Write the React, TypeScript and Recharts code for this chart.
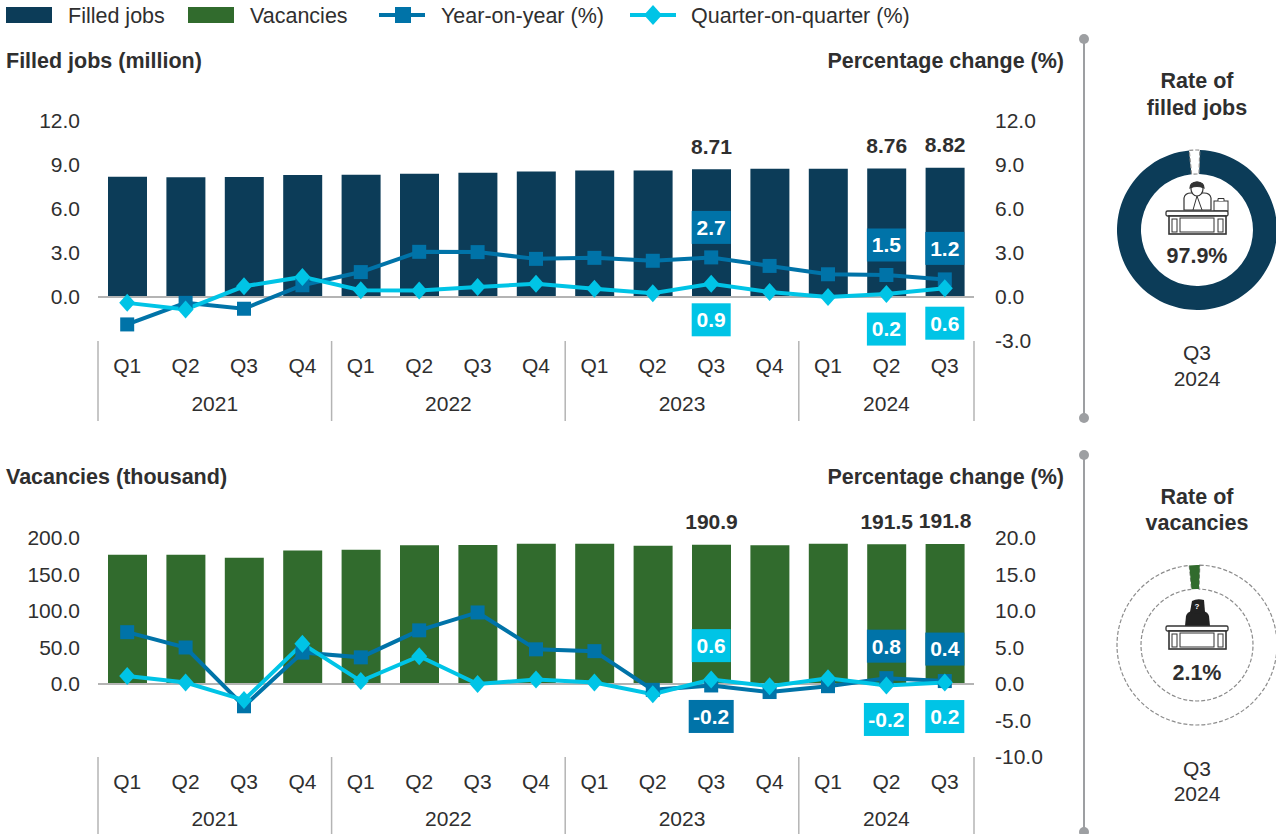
import { Bar, Cell, ComposedChart, LabelList, Line, Pie, PieChart, ReferenceLine, XAxis, YAxis } from 'recharts'

const quarters = ['Q1', 'Q2', 'Q3', 'Q4', 'Q1', 'Q2', 'Q3', 'Q4', 'Q1', 'Q2', 'Q3', 'Q4', 'Q1', 'Q2', 'Q3']
const years = ['2021', '2022', '2023', '2024']
const yearSpans = [4, 4, 4, 3]

const filledJobs = [8.2, 8.16, 8.19, 8.32, 8.34, 8.4, 8.47, 8.55, 8.62, 8.63, 8.71, 8.74, 8.75, 8.76, 8.82]
const filledYoy = [-1.87, -0.4, -0.8, 0.8, 1.7, 3.08, 3.06, 2.6, 2.67, 2.47, 2.7, 2.12, 1.55, 1.5, 1.2]
const filledQoq = [-0.4, -0.85, 0.73, 1.37, 0.46, 0.44, 0.68, 0.91, 0.57, 0.25, 0.9, 0.34, 0, 0.2, 0.6]

const vacancies = [177, 177, 173, 183, 184, 190, 190.5, 192, 192, 189.5, 190.9, 190, 192, 191.5, 191.8]
const vacancyYoy = [7.1, 5, -3.05, 4.3, 3.65, 7.35, 9.8, 4.75, 4.5, -0.8, -0.2, -1.1, -0.3, 0.8, 0.4]
const vacancyQoq = [1.1, 0.2, -2.2, 5.5, 0.4, 3.8, 0, 0.6, 0.2, -1.4, 0.6, -0.3, 0.8, -0.2, 0.2]

const filledRate = [
  { name: 'Filled', value: 97.9 },
  { name: 'Other', value: 2.1 },
]
const vacancyRate = [
  { name: 'Other', value: 97.9 },
  { name: 'Vacant', value: 2.1 },
]

const filledTable = quarters.map((quarter, i) => ({
  id: i,
  quarter,
  bar: filledJobs[i],
  yoy: filledYoy[i],
  qoq: filledQoq[i],
}))
const vacancyTable = quarters.map((quarter, i) => ({
  id: i,
  quarter,
  bar: vacancies[i],
  yoy: vacancyYoy[i],
  qoq: vacancyQoq[i],
}))

const NAVY = '#0c3c58'
const GREEN = '#316b2d'
const BLUE = '#0073a8'
const CYAN = '#00c4e6'
const TEXT = '#2f2f2f'
const FONT = '"Liberation Sans", Arial, sans-serif'
const FS = 21.5
const TICK_FS = 21

const PLOT_W = 876
const STEP = PLOT_W / 15

const SquareDot = ({ cx, cy, index }: any) => (
  <rect key={index} x={cx - 7} y={cy - 7} width={14} height={14} fill={BLUE} />
)

const DiamondDot = ({ cx, cy, index }: any) => (
  <polygon key={index} points={`${cx},${cy - 9} ${cx + 8},${cy} ${cx},${cy + 9} ${cx - 8},${cy}`} fill={CYAN} />
)

// the quarter label, plus the year label and separators hanging under it
const makeTick = (sepHeight: number, yearDy: number) =>
  function QuarterTick({ x, y, payload, index }: any) {
    const i = payload?.index ?? index
    let start = 0
    let yearIdx = -1
    yearSpans.forEach((span, k) => {
      if (i === start) yearIdx = k
      start += span
    })
    return (
      <g>
        <text x={x} y={y + 25} dy="0.35em" textAnchor="middle" fontSize={TICK_FS} fill={TEXT} fontFamily={FONT}>
          {quarters[i]}
        </text>
        {yearIdx >= 0 && (
          <>
            <line x1={x - STEP / 2} x2={x - STEP / 2} y1={y} y2={y + sepHeight} stroke="#b4b4b4" strokeWidth={1.5} />
            <text
              x={x + ((yearSpans[yearIdx] - 1) * STEP) / 2}
              y={y + yearDy}
              dy="0.35em"
              textAnchor="middle"
              fontSize={TICK_FS}
              fill={TEXT}
              fontFamily={FONT}
            >
              {years[yearIdx]}
            </text>
          </>
        )}
        {i === quarters.length - 1 && (
          <line x1={x + STEP / 2} x2={x + STEP / 2} y1={y} y2={y + sepHeight} stroke="#b4b4b4" strokeWidth={1.5} />
        )}
      </g>
    )
  }

// boxed callout; offsets says which points get one and how far from the marker
const makeBox = (fill: string, offsets: Record<number, number>) =>
  function BoxLabel({ x, y, value, index }: any) {
    const dy = offsets[index]
    if (dy === undefined) return null
    const w = value < 0 ? 45 : 39
    return (
      <g>
        <rect x={x - w / 2} y={y + dy - 16.5} width={w} height={33} fill={fill} />
        <text
          x={x}
          y={y + dy}
          dy="0.35em"
          textAnchor="middle"
          fontSize={TICK_FS}
          fontWeight="bold"
          fill="#fff"
          fontFamily={FONT}
        >
          {Number(value).toFixed(1)}
        </text>
      </g>
    )
  }

const makeBarLabel = (digits: number, offsets: Record<number, number>) =>
  function BarLabel({ x, y, width, value, index }: any) {
    const dy = offsets[index]
    if (dy === undefined) return null
    return (
      <text
        x={x + width / 2}
        y={y + dy}
        dy="0.35em"
        textAnchor="middle"
        fontSize={TICK_FS}
        fontWeight="bold"
        fill={TEXT}
        fontFamily={FONT}
      >
        {Number(value).toFixed(digits)}
      </text>
    )
  }

function ComboChart({
  top,
  height,
  marginTop,
  axisHeight,
  table,
  barFill,
  leftDomain,
  leftTicks,
  rightDomain,
  rightTicks,
  digits,
  barOffsets,
  yoyOffsets,
  qoqOffsets,
  yearDy,
}: any) {
  const tickStyle = { fontSize: TICK_FS, fill: TEXT, fontFamily: FONT }
  return (
    <div style={{ position: 'absolute', left: 0, top }}>
      <ComposedChart
        width={1070}
        height={height}
        data={table}
        margin={{ top: marginTop, right: 0, bottom: 0, left: 0 }}
        barCategoryGap={0}
      >
        <XAxis
          dataKey="id"
          height={axisHeight}
          axisLine={false}
          tickLine={false}
          tickSize={0}
          tickMargin={0}
          interval={0}
          tick={makeTick(axisHeight, yearDy)}
        />
        <YAxis
          yAxisId="left"
          width={98}
          domain={leftDomain}
          ticks={leftTicks}
          axisLine={false}
          tickLine={false}
          tickSize={0}
          tickMargin={18}
          tick={tickStyle}
          interval={0}
          tickFormatter={(v: number) => v.toFixed(1)}
        />
        <YAxis
          yAxisId="right"
          orientation="right"
          width={96}
          domain={rightDomain}
          ticks={rightTicks}
          axisLine={false}
          tickLine={false}
          tickSize={0}
          tickMargin={21}
          tick={{ ...tickStyle, textAnchor: 'start' }}
          interval={0}
          tickFormatter={(v: number) => v.toFixed(1)}
        />
        <Bar yAxisId="left" dataKey="bar" barSize={39} fill={barFill} isAnimationActive={false}>
          <LabelList dataKey="bar" content={makeBarLabel(digits, barOffsets)} />
        </Bar>
        <ReferenceLine yAxisId="left" y={0} stroke="#b4b4b4" strokeWidth={2} />
        <Line
          yAxisId="right"
          dataKey="yoy"
          stroke={BLUE}
          strokeWidth={4}
          dot={SquareDot}
          activeDot={false}
          isAnimationActive={false}
        >
          <LabelList dataKey="yoy" content={makeBox(BLUE, yoyOffsets)} />
        </Line>
        <Line
          yAxisId="right"
          dataKey="qoq"
          stroke={CYAN}
          strokeWidth={4}
          dot={DiamondDot}
          activeDot={false}
          isAnimationActive={false}
        >
          <LabelList dataKey="qoq" content={makeBox(CYAN, qoqOffsets)} />
        </Line>
      </ComposedChart>
    </div>
  )
}

function RateRing({ top, data, colors }: any) {
  return (
    <div style={{ position: 'absolute', left: 1110, top }}>
      <PieChart width={176} height={180} margin={{ top: 0, right: 0, bottom: 0, left: 0 }}>
        <Pie
          data={data}
          dataKey="value"
          cx={87}
          cy={90}
          innerRadius={56}
          outerRadius={80}
          startAngle={88}
          endAngle={-272}
          isAnimationActive={false}
        >
          {data.map((_: any, i: number) => (
            <Cell
              key={i}
              fill={colors[i] ?? '#fff'}
              stroke={colors[i] ? colors[i] : '#8c8c8c'}
              strokeWidth={colors[i] ? 0 : 1.2}
              strokeDasharray={colors[i] ? undefined : '4 2'}
            />
          ))}
        </Pie>
      </PieChart>
    </div>
  )
}

function Desk({ y }: { y: number }) {
  const c = '#333'
  return (
    <g fill="#fff" stroke={c} strokeWidth={1.3}>
      <rect x={1166} y={y} width={62} height={5} rx={1.5} />
      <rect x={1169} y={y + 5} width={57} height={18} strokeWidth={1.6} />
      <rect x={1172} y={y + 8} width={5} height={13} strokeWidth={1} />
      <rect x={1218} y={y + 8} width={5} height={13} strokeWidth={1} />
      <rect x={1180} y={y + 7} width={34} height={14} strokeWidth={1} />
    </g>
  )
}

function Legend() {
  const y = 15
  const label = (x: number, s: string) => (
    <text x={x} y={y} dy="0.35em" fontSize={FS} fill={TEXT} fontFamily={FONT}>
      {s}
    </text>
  )
  return (
    <g>
      <rect x={6} y={7} width={46} height={16} fill={NAVY} />
      {label(68, 'Filled jobs')}
      <rect x={188} y={7} width={46} height={16} fill={GREEN} />
      {label(250, 'Vacancies')}
      <line x1={379} x2={425} y1={y} y2={y} stroke={BLUE} strokeWidth={4} />
      <rect x={395} y={y - 8} width={16} height={16} fill={BLUE} />
      {label(441, 'Year-on-year (%)')}
      <line x1={630} x2={676} y1={y} y2={y} stroke={CYAN} strokeWidth={4} />
      <polygon points={`653,${y - 10} 662,${y} 653,${y + 10} 644,${y}`} fill={CYAN} />
      {label(691, 'Quarter-on-quarter (%)')}
    </g>
  )
}

function Overlay() {
  const bold = { fontSize: FS, fontWeight: 'bold', fill: TEXT, fontFamily: FONT }
  const plain = { fontSize: TICK_FS, fill: TEXT, fontFamily: FONT }
  const mid = { dy: '0.35em', textAnchor: 'middle' as const }
  return (
    <svg width={1276} height={834} style={{ position: 'absolute', left: 0, top: 0, pointerEvents: 'none' }}>
      <Legend />
      <text x={6} y={60} dy="0.35em" {...bold}>Filled jobs (million)</text>
      <text x={1064} y={60} dy="0.35em" textAnchor="end" {...bold}>Percentage change (%)</text>
      <text x={6} y={476} dy="0.35em" {...bold}>Vacancies (thousand)</text>
      <text x={1064} y={476} dy="0.35em" textAnchor="end" {...bold}>Percentage change (%)</text>

      <line x1={1084} x2={1084} y1={39} y2={418} stroke="#9d9fa2" strokeWidth={2} />
      <circle cx={1084} cy={39} r={5} fill="#9d9fa2" />
      <circle cx={1084} cy={418} r={5} fill="#9d9fa2" />
      <line x1={1084} x2={1084} y1={455} y2={832} stroke="#9d9fa2" strokeWidth={2} />
      <circle cx={1084} cy={455} r={5} fill="#9d9fa2" />
      <circle cx={1084} cy={832} r={5} fill="#9d9fa2" />

      <text x={1197} y={80} {...mid} {...bold}>Rate of</text>
      <text x={1197} y={107} {...mid} {...bold}>filled jobs</text>
      <text x={1197} y={255} {...mid} {...bold}>97.9%</text>
      <text x={1197} y={353} {...mid} {...plain}>Q3</text>
      <text x={1197} y={379} {...mid} {...plain}>2024</text>

      <text x={1197} y={496} {...mid} {...bold}>Rate of</text>
      <text x={1197} y={522} {...mid} {...bold}>vacancies</text>
      <text x={1197} y={672} {...mid} {...bold}>2.1%</text>
      <text x={1197} y={769} {...mid} {...plain}>Q3</text>
      <text x={1197} y={794} {...mid} {...plain}>2024</text>

      {/* person at desk */}
      <g fill="#fff" stroke="#333" strokeWidth={1.2}>
        <path d="M1184,210 L1184,198 Q1185,193 1191,193 L1204,193 Q1210,193 1211,198 L1211,210 Z" />
        <path d="M1197,196 L1193,210 M1197,196 L1202,210" strokeWidth={1} />
        <ellipse cx={1197} cy={189} rx={6} ry={7} />
        <path d="M1190,188 Q1190,182 1197,182 Q1204,182 1204,188 Q1197,185 1190,188 Z" fill="#333" />
        <rect x={1214} y={201} width={14} height={10} strokeWidth={1} />
        <path d="M1218,201 L1218,198.5 L1224,198.5 L1224,201" strokeWidth={1} />
      </g>
      <Desk y={211} />

      {/* empty desk, dark figure */}
      <g fill="#222">
        <path d="M1185,626 L1186,616 Q1187,612 1192,611 L1203,611 Q1208,612 1209,616 L1210,626 Z" />
        <path d="M1190,612 L1192,601 Q1197,598 1204,600 L1205,612 Q1197,615 1190,612 Z" />
      </g>
      <text x={1197} y={606} dy="0.35em" textAnchor="middle" fontSize={8} fontWeight="bold" fill="#fff" fontFamily={FONT}>?</text>
      <Desk y={626} />
    </svg>
  )
}

export default function App() {
  return (
    <div style={{ position: 'absolute', left: 0, top: 0, width: 1276, height: 834, overflow: 'hidden', background: '#fff' }}>
      <ComboChart
        top={0}
        height={421}
        marginTop={121}
        axisHeight={80}
        table={filledTable}
        barFill={NAVY}
        leftDomain={[-3, 12]}
        leftTicks={[0, 3, 6, 9, 12]}
        rightDomain={[-3, 12]}
        rightTicks={[-3, 0, 3, 6, 9, 12]}
        digits={2}
        barOffsets={{ 10: -23, 13: -23, 14: -23 }}
        yoyOffsets={{ 10: -30, 13: -30, 14: -31 }}
        qoqOffsets={{ 10: 36, 13: 35, 14: 35 }}
        yearDy={63}
      />
      <ComboChart
        top={420}
        height={414}
        marginTop={118}
        axisHeight={77}
        table={vacancyTable}
        barFill={GREEN}
        leftDomain={[-100, 200]}
        leftTicks={[0, 50, 100, 150, 200]}
        rightDomain={[-10, 20]}
        rightTicks={[-10, -5, 0, 5, 10, 15, 20]}
        digits={1}
        barOffsets={{ 10: -23, 13: -23, 14: -23 }}
        yoyOffsets={{ 10: 31, 13: -32, 14: -32 }}
        qoqOffsets={{ 10: -34, 13: 34, 14: 34 }}
        yearDy={62}
      />
      <RateRing top={140} data={filledRate} colors={[NAVY, null]} />
      <RateRing top={555} data={vacancyRate} colors={[null, GREEN]} />
      <Overlay />
    </div>
  )
}
